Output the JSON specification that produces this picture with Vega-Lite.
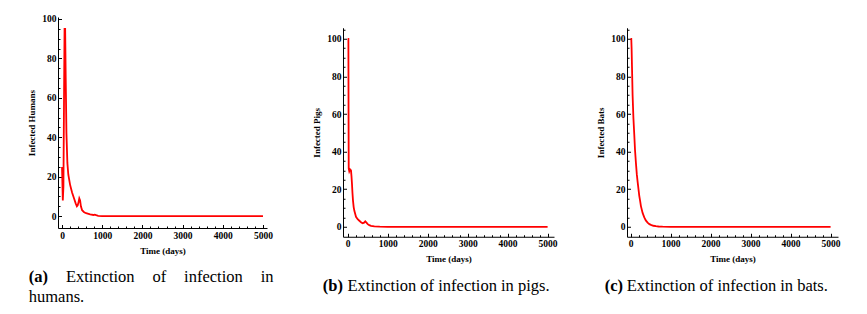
{
  "$schema": "https://vega.github.io/schema/vega-lite/v6.json",
  "background": "white",
  "padding": {"left": 27, "top": 13, "right": 5, "bottom": 5},
  "spacing": 38,
  "center": true,
  "config": {
    "view": {"stroke": null},
    "axis": {
      "grid": false,
      "domainColor": "black",
      "domainWidth": 1,
      "tickColor": "black",
      "tickWidth": 1,
      "labelFont": "Liberation Serif",
      "labelFontWeight": "bold",
      "labelFontSize": 9.5,
      "labelColor": "black",
      "labelOverlap": false,
      "labelFlush": false,
      "labelPadding": 5.5,
      "titleFont": "Liberation Serif",
      "titleFontWeight": "bold",
      "titleFontSize": 9,
      "titleColor": "black"
    },
    "axisX": {"titlePadding": 5},
    "axisY": {"titlePadding": 5},
    "title": {
      "orient": "bottom",
      "anchor": "start",
      "font": "Liberation Serif",
      "fontSize": 16.5,
      "fontWeight": "bold",
      "color": "black",
      "subtitleFont": "Liberation Serif",
      "subtitleFontSize": 16.5,
      "subtitleFontWeight": "normal",
      "subtitleColor": "black",
      "subtitlePadding": -16.5,
      "subtitleLineHeight": 19.5,
      "offset": 14
    }
  },
  "hconcat": [
    {
      "width": 209,
      "height": 211,
      "title": {"text": "(a)", "subtitle": ["\u200b\u00a0\u00a0\u00a0\u00a0\u00a0\u00a0\u00a0\u00a0\u00a0Extinction\u00a0\u00a0\u00a0\u00a0\u200aof\u00a0\u00a0\u00a0\u00a0\u200ainfection\u00a0\u00a0\u00a0\u00a0\u200ain", "humans."], "dx": 1},
      "data": {"values": [
        {"t": 0, "v": 25}, {"t": 20, "v": 8}, {"t": 35, "v": 15}, {"t": 50, "v": 60}, {"t": 63, "v": 95},
        {"t": 78, "v": 95}, {"t": 92, "v": 70}, {"t": 110, "v": 42}, {"t": 133, "v": 27}, {"t": 157, "v": 21},
        {"t": 200, "v": 16}, {"t": 250, "v": 12}, {"t": 300, "v": 9}, {"t": 340, "v": 6.5}, {"t": 370, "v": 5},
        {"t": 390, "v": 5.5}, {"t": 410, "v": 7}, {"t": 430, "v": 9}, {"t": 450, "v": 8}, {"t": 470, "v": 5},
        {"t": 500, "v": 3}, {"t": 550, "v": 2}, {"t": 600, "v": 1.5}, {"t": 700, "v": 0.9}, {"t": 780, "v": 0.6},
        {"t": 810, "v": 0.8}, {"t": 850, "v": 0.5}, {"t": 900, "v": 0.2}, {"t": 1000, "v": 0.05}, {"t": 1200, "v": 0},
        {"t": 5000, "v": 0}
      ]},
      "mark": {"type": "line", "color": "#ff0000", "strokeWidth": 1.8, "clip": true},
      "encoding": {
        "x": {"field": "t", "type": "quantitative", "title": "Time (days)",
          "scale": {"domain": [-100, 5100], "nice": false, "zero": false},
          "axis": {"values": [0,200,400,600,800,1000,1200,1400,1600,1800,2000,2200,2400,2600,2800,3000,3200,3400,3600,3800,4000,4200,4400,4600,4800,5000],
            "labelExpr": "datum.value % 1000 === 0 ? datum.label : ''",
            "format": "d",
            "tickSize": {"condition": {"test": "datum.value % 1000 === 0", "value": -3.5}, "value": -2}}},
        "y": {"field": "v", "type": "quantitative", "title": "Infected Humans",
          "scale": {"domain": [-6, 101], "nice": false, "zero": false},
          "axis": {"values": [0,5,10,15,20,25,30,35,40,45,50,55,60,65,70,75,80,85,90,95,100],
            "labelExpr": "datum.value % 20 === 0 ? datum.label : ''",
            "tickSize": {"condition": {"test": "datum.value % 20 === 0", "value": -3.5}, "value": -2}}}
      }
    },
    {
      "width": 211,
      "height": 209,
      "title": {"text": "(b)", "subtitle": "\u200b\u00a0\u00a0\u00a0\u00a0\u00a0\u00a0Extinction of infection in pigs.", "dx": 10},
      "data": {"values": [
        {"t": 0, "v": 100}, {"t": 18, "v": 100}, {"t": 22, "v": 60}, {"t": 26, "v": 31}, {"t": 40, "v": 29.5},
        {"t": 60, "v": 30.5}, {"t": 83, "v": 30}, {"t": 95, "v": 27}, {"t": 108, "v": 22.7}, {"t": 120, "v": 18},
        {"t": 133, "v": 13.9}, {"t": 150, "v": 10.5}, {"t": 167, "v": 8.5}, {"t": 208, "v": 5.3}, {"t": 250, "v": 4},
        {"t": 292, "v": 3.2}, {"t": 340, "v": 2.3}, {"t": 375, "v": 1.9}, {"t": 410, "v": 2.2}, {"t": 440, "v": 2.9},
        {"t": 470, "v": 2.2}, {"t": 500, "v": 1.4}, {"t": 540, "v": 0.9}, {"t": 583, "v": 0.5}, {"t": 667, "v": 0.2},
        {"t": 800, "v": 0.05}, {"t": 1000, "v": 0}, {"t": 5000, "v": 0}
      ]},
      "mark": {"type": "line", "color": "#ff0000", "strokeWidth": 1.8, "clip": true},
      "encoding": {
        "x": {"field": "t", "type": "quantitative", "title": "Time (days)",
          "scale": {"domain": [-117, 5160], "nice": false, "zero": false},
          "axis": {"values": [0,200,400,600,800,1000,1200,1400,1600,1800,2000,2200,2400,2600,2800,3000,3200,3400,3600,3800,4000,4200,4400,4600,4800,5000],
            "labelExpr": "datum.value % 1000 === 0 ? datum.label : ''",
            "format": "d",
            "tickSize": {"condition": {"test": "datum.value % 1000 === 0", "value": -3.5}, "value": -2}}},
        "y": {"field": "v", "type": "quantitative", "title": "Infected Pigs",
          "scale": {"domain": [-5.3, 105.9], "nice": false, "zero": false},
          "axis": {"values": [0,5,10,15,20,25,30,35,40,45,50,55,60,65,70,75,80,85,90,95,100,105],
            "labelExpr": "datum.value % 20 === 0 ? datum.label : ''",
            "tickSize": {"condition": {"test": "datum.value % 20 === 0", "value": -3.5}, "value": -2}}}
      }
    },
    {
      "width": 211,
      "height": 209,
      "title": {"text": "(c)", "subtitle": "\u200b\u00a0\u00a0\u00a0\u00a0\u00a0\u200aExtinction of infection in bats.", "dx": 8},
      "data": {"values": [
        {"t": 0, "v": 100}, {"t": 17, "v": 100}, {"t": 25, "v": 95}, {"t": 35, "v": 85}, {"t": 50, "v": 70},
        {"t": 70, "v": 58}, {"t": 92, "v": 49}, {"t": 110, "v": 41}, {"t": 133, "v": 34}, {"t": 155, "v": 28},
        {"t": 175, "v": 24}, {"t": 200, "v": 19.5}, {"t": 217, "v": 16.5}, {"t": 240, "v": 13.5}, {"t": 258, "v": 11},
        {"t": 300, "v": 7.4}, {"t": 342, "v": 5}, {"t": 380, "v": 3.4}, {"t": 425, "v": 2.2}, {"t": 470, "v": 1.4},
        {"t": 508, "v": 1}, {"t": 570, "v": 0.55}, {"t": 633, "v": 0.3}, {"t": 700, "v": 0.15}, {"t": 800, "v": 0.05},
        {"t": 1000, "v": 0}, {"t": 5000, "v": 0}
      ]},
      "mark": {"type": "line", "color": "#ff0000", "strokeWidth": 1.8, "clip": true},
      "encoding": {
        "x": {"field": "t", "type": "quantitative", "title": "Time (days)",
          "scale": {"domain": [-90, 5185], "nice": false, "zero": false},
          "axis": {"values": [0,200,400,600,800,1000,1200,1400,1600,1800,2000,2200,2400,2600,2800,3000,3200,3400,3600,3800,4000,4200,4400,4600,4800,5000],
            "labelExpr": "datum.value % 1000 === 0 ? datum.label : ''",
            "format": "d",
            "tickSize": {"condition": {"test": "datum.value % 1000 === 0", "value": -3.5}, "value": -2}}},
        "y": {"field": "v", "type": "quantitative", "title": "Infected Bats",
          "scale": {"domain": [-5.3, 105.9], "nice": false, "zero": false},
          "axis": {"values": [0,5,10,15,20,25,30,35,40,45,50,55,60,65,70,75,80,85,90,95,100,105],
            "labelExpr": "datum.value % 20 === 0 ? datum.label : ''",
            "tickSize": {"condition": {"test": "datum.value % 20 === 0", "value": -3.5}, "value": -2}}}
      }
    }
  ]
}
